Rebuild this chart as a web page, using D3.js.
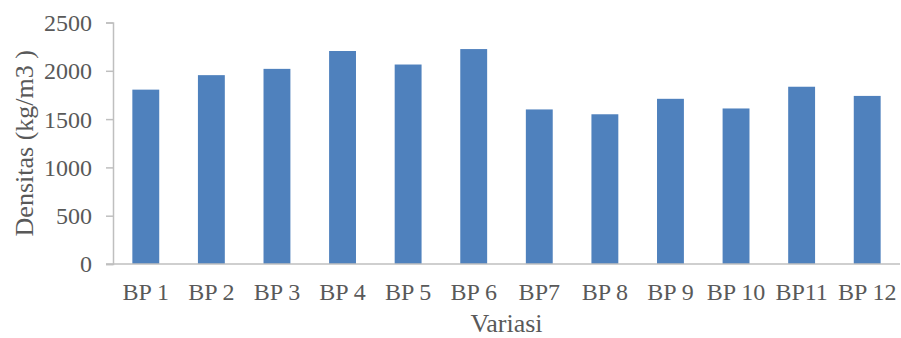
<!DOCTYPE html>
<html>
<head>
<meta charset="utf-8">
<script src="https://cdn.jsdelivr.net/npm/d3@7"></script>
<style>
  html, body { margin: 0; padding: 0; background: #ffffff; }
  svg { display: block; }
  text { font-family: "Liberation Serif", "Times New Roman", serif; fill: #595959; }
</style>
</head>
<body>
<svg id="chart" width="901" height="338"></svg>
<script>
// Density per mix variation
const categories = ["BP 1", "BP 2", "BP 3", "BP 4", "BP 5", "BP 6", "BP7", "BP 8", "BP 9", "BP 10", "BP11", "BP 12"];
const densities = [1805, 1955, 2020, 2205, 2065, 2225, 1600, 1550, 1710, 1610, 1835, 1740];
const yTicks = [0, 500, 1000, 1500, 2000, 2500];
const xTitle = "Variasi";
const yTitle = "Densitas (kg/m3 )";

const svg = d3.select("#chart");
const plotLeft = 113, plotRight = 900, plotTop = 22.5, plotBottom = 264;
const axisColor = "#BFBFBF";
const serif = "'Liberation Serif', 'Times New Roman', serif";

const x = d3.scaleBand()
  .domain(categories)
  .range([plotLeft, plotRight])
  .paddingInner(0.59)
  .paddingOuter(0.295);

const y = d3.scaleLinear()
  .domain([0, 2500])
  .range([plotBottom, plotTop]);

// bars
svg.append("g")
  .selectAll("rect")
  .data(categories.map((c, i) => ({ c, v: densities[i] })))
  .join("rect")
  .attr("x", d => x(d.c))
  .attr("y", d => y(d.v))
  .attr("width", x.bandwidth())
  .attr("height", d => y(0) - y(d.v))
  .attr("fill", "#4F81BD");

// y axis
const yAxis = svg.append("g")
  .attr("transform", `translate(${plotLeft},0)`)
  .call(d3.axisLeft(y).tickValues(yTicks).tickSize(7).tickPadding(14).tickFormat(d3.format("d")));
yAxis.select(".domain").attr("stroke", axisColor).attr("stroke-width", 1.5);
yAxis.selectAll(".tick line").attr("stroke", axisColor).attr("stroke-width", 1.5);
yAxis.selectAll(".tick text")
  .attr("font-size", 24)
  .attr("font-family", serif)
  .attr("fill", "#595959")
  .attr("dy", "0.33em");

// x axis
const xAxis = svg.append("g")
  .attr("transform", `translate(0,${plotBottom})`)
  .call(d3.axisBottom(x).tickSize(0));
xAxis.select(".domain").attr("d", `M${plotLeft - 7},0H${plotRight}`).attr("stroke", axisColor).attr("stroke-width", 1.5);
xAxis.selectAll(".tick text")
  .attr("font-size", 24)
  .attr("font-family", serif)
  .attr("fill", "#595959")
  .attr("dy", "0")
  .attr("y", 36);

// axis titles
svg.append("text")
  .attr("x", (plotLeft + plotRight) / 2)
  .attr("y", 332)
  .attr("text-anchor", "middle")
  .attr("font-size", 26)
  .text(xTitle);

svg.append("text")
  .attr("transform", `translate(33,${(plotTop + plotBottom) / 2}) rotate(-90)`)
  .attr("text-anchor", "middle")
  .attr("font-size", 26)
  .text(yTitle);
</script>
</body>
</html>
